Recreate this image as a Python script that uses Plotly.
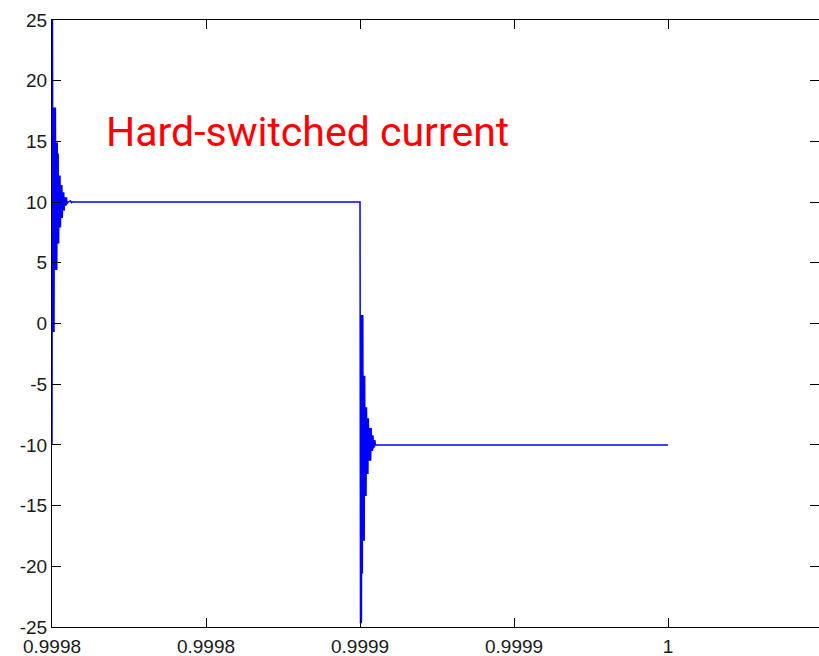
import plotly.graph_objects as go

# --- data ---
T_START = 0.99980      # start of trace / first switching instant (s)
T_SWITCH = 0.99990     # second switching instant (s)
T_END = 1.00000        # end of trace (s)

# ringing after the first switching edge (-10 A -> +10 A): offsets in microseconds, current in A
LEFT_T_US = [0.00, 0.15, 0.35, 0.50, 0.65, 0.80, 0.95, 1.10, 1.25, 1.40, 1.55, 1.70,
             1.85, 2.00, 2.15, 2.30, 2.45, 2.60, 2.75, 2.90, 3.05, 3.20, 3.35, 3.50,
             3.65, 3.80, 3.95, 4.10, 4.25, 4.40, 4.55, 4.70, 4.85, 5.20, 6.00, 6.30, 6.60]
LEFT_I = [-10, 25, -0.7, 17.8, -0.7, 17.8, 4.4, 17.8, 4.4, 14.9, 4.4, 14.9,
          6.6, 14.0, 6.6, 12.2, 7.9, 12.2, 7.9, 11.4, 8.7, 11.4, 8.7, 10.8,
          9.3, 10.8, 9.3, 10.4, 9.7, 10.4, 9.7, 10.4, 9.85, 10.0, 10.1, 9.95, 10.0]

# ringing after the second switching edge (+10 A -> -10 A)
RIGHT_T_US = [0.00, 0.15, 0.30, 0.45, 0.60, 0.75, 0.90, 1.05, 1.20, 1.35, 1.50, 1.65,
              1.80, 1.95, 2.10, 2.25, 2.40, 2.55, 2.70, 2.85, 3.00, 3.15, 3.30, 3.45,
              3.60, 3.75, 3.90, 4.05, 4.20, 4.35, 4.50, 4.65, 4.80, 5.00]
RIGHT_I = [10, -24.7, 0.7, -24.7, 0.7, -20.6, 0.7, -17.9, -4.3, -17.9, -4.3, -14.2,
           -6.9, -14.2, -6.9, -12.4, -7.8, -12.4, -7.8, -11.3, -8.6, -11.3, -8.6, -11.3,
           -8.6, -10.5, -9.2, -10.5, -9.2, -10.3, -9.6, -10.2, -9.6, -10.0]

END_I = -10.0

X_TICK_VALS = [0.99980, 0.99985, 0.99990, 0.99995, 1.00000]
X_TICK_TEXT = ["0.9998", "0.9998", "0.9999", "0.9999", "1"]
Y_TICK_VALS = [-25, -20, -15, -10, -5, 0, 5, 10, 15, 20, 25]
Y_TICK_TEXT = ["-25", "-20", "-15", "-10", "-5", "0", "5", "10", "15", "20", "25"]

LABEL = "Hard-switched current"

# --- build series ---
t = [T_START + u * 1e-6 for u in LEFT_T_US] + [T_SWITCH + u * 1e-6 for u in RIGHT_T_US] + [T_END]
i = LEFT_I + RIGHT_I + [END_I]

fig = go.Figure()
fig.add_trace(go.Scatter(x=t, y=i, mode="lines",
                         line=dict(color="#0000FF", width=1.5), hoverinfo="skip",
                         showlegend=False))

axis_common = dict(showgrid=False, zeroline=False, showline=True, linecolor="#000000",
                   linewidth=1, mirror="ticks", ticks="inside", ticklen=9,
                   tickcolor="#000000", tickwidth=1,
                   tickfont=dict(family="Liberation Sans, Arial, sans-serif", size=19,
                                 color="#1a1a1a"))

fig.update_layout(
    width=819, height=656,
    margin=dict(l=52, r=0, t=20, b=29, pad=0),
    paper_bgcolor="white", plot_bgcolor="white",
    xaxis=dict(range=[0.99980, 1.000049], tickvals=X_TICK_VALS, ticktext=X_TICK_TEXT,
               ticklabelstandoff=2, **axis_common),
    yaxis=dict(range=[-25, 25], tickvals=Y_TICK_VALS, ticktext=Y_TICK_TEXT,
               **axis_common),
    annotations=[dict(x=0.9998169, y=15.75, xref="x", yref="y", text=LABEL,
                      showarrow=False, xanchor="left", yanchor="middle",
                      font=dict(family="Roboto, sans-serif", size=41, color="#FF0000"))],
)

fig.write_html("out.html")
